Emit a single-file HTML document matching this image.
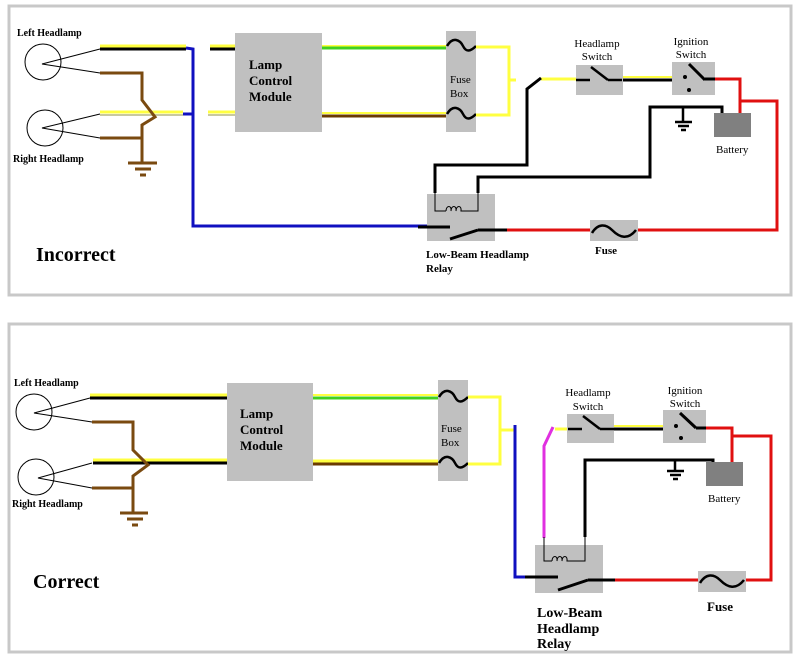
<!DOCTYPE html>
<html><head><style>body{margin:0;background:#fff}svg{display:block}text{font-family:"Liberation Serif",serif}</style></head><body>
<svg width="799" height="656" viewBox="0 0 799 656" xmlns="http://www.w3.org/2000/svg">
<rect x="0" y="0" width="799" height="656" fill="#fff"/>
<!-- ===== TOP PANEL ===== -->
<rect x="9" y="6" width="782" height="289" fill="#fff" stroke="#c8c8c8" stroke-width="3"/>
<g fill="none" stroke-linecap="butt">
<circle cx="43" cy="62" r="18" stroke="#000" stroke-width="1"/>
<circle cx="45" cy="128" r="18" stroke="#000" stroke-width="1"/>
<polyline points="100,49 42,64 100,73" stroke="#000" stroke-width="1"/>
<polyline points="100,114 42,128 100,138" stroke="#000" stroke-width="1"/>
<line x1="100" y1="46" x2="186" y2="46" stroke="#ffff40" stroke-width="3"/>
<line x1="100" y1="49" x2="186" y2="49" stroke="#000" stroke-width="3"/>
<line x1="210" y1="46" x2="235" y2="46" stroke="#ffff40" stroke-width="3"/>
<line x1="210" y1="49" x2="235" y2="49" stroke="#000" stroke-width="3"/>
<line x1="100" y1="112" x2="183" y2="112" stroke="#ffff40" stroke-width="3"/>
<line x1="100" y1="115" x2="183" y2="115" stroke="#c8c8a0" stroke-width="2"/>
<line x1="208" y1="112" x2="235" y2="112" stroke="#ffff40" stroke-width="3"/>
<line x1="208" y1="115" x2="235" y2="115" stroke="#c8c8a0" stroke-width="2"/>
<polyline points="186,48 193,49 193,226 430,226" stroke="#1010c0" stroke-width="3"/>
<line x1="183" y1="114" x2="193" y2="114" stroke="#1010c0" stroke-width="3"/>
<polyline points="100,73 142,73 142,100 155,117 142,125 142,162" stroke="#7a4a10" stroke-width="3"/>
<line x1="100" y1="138" x2="142" y2="138" stroke="#7a4a10" stroke-width="3"/>
<line x1="128" y1="163" x2="157" y2="163" stroke="#7a4a10" stroke-width="3"/>
<line x1="135" y1="169" x2="151" y2="169" stroke="#7a4a10" stroke-width="3"/>
<line x1="140" y1="175" x2="146" y2="175" stroke="#7a4a10" stroke-width="3"/>
</g>
<rect x="235" y="33" width="87" height="99" fill="#c0c0c0"/>
<text font-weight="bold" font-size="13" x="249" y="69">Lamp</text>
<text font-weight="bold" font-size="13" x="249" y="85">Control</text>
<text font-weight="bold" font-size="13" x="249" y="101">Module</text>
<g fill="none">
<line x1="322" y1="46" x2="447" y2="46" stroke="#ffff40" stroke-width="2"/>
<line x1="322" y1="48" x2="447" y2="48" stroke="#40d020" stroke-width="3"/>
<line x1="322" y1="113" x2="447" y2="113" stroke="#ffff40" stroke-width="2"/>
<line x1="322" y1="116" x2="447" y2="116" stroke="#6a3a00" stroke-width="3"/>
</g>
<rect x="446" y="31" width="30" height="101" fill="#c0c0c0"/>
<path d="M447,46 C453,36 460,40 463,46 C466,52 470,52 476,46" fill="none" stroke="#000" stroke-width="2.5"/>
<path d="M447,114 C453,104 460,108 463,114 C466,120 470,120 476,114" fill="none" stroke="#000" stroke-width="2.5"/>
<text font-size="11" x="450" y="83">Fuse</text>
<text font-size="11" x="450" y="97">Box</text>
<g fill="none">
<polyline points="476,47 509,47 509,115 476,115" stroke="#ffff40" stroke-width="3"/>
<line x1="509" y1="80" x2="516" y2="80" stroke="#ffff40" stroke-width="3"/>
<line x1="541" y1="79" x2="576" y2="79" stroke="#ffff40" stroke-width="3"/>
<polyline points="435,193 435,165 527,165 527,89 541,78" stroke="#000" stroke-width="3"/>
<polyline points="478,193 478,177 650,177 650,107 722,107 722,115" stroke="#000" stroke-width="3"/>
</g>
<rect x="576" y="65" width="47" height="30" fill="#c0c0c0"/>
<g fill="none" stroke="#000" stroke-width="2.5">
<line x1="576" y1="80" x2="590" y2="80"/><line x1="591" y1="67" x2="608" y2="80"/><line x1="608" y1="80" x2="622" y2="80"/>
</g>
<text font-size="11" x="597" y="47" text-anchor="middle">Headlamp</text>
<text font-size="11" x="597" y="60" text-anchor="middle">Switch</text>
<line x1="623" y1="77" x2="672" y2="77" stroke="#ffff40" stroke-width="2"/>
<line x1="623" y1="80" x2="672" y2="80" stroke="#000" stroke-width="3"/>
<rect x="672" y="62" width="43" height="33" fill="#c0c0c0"/>
<g stroke="#000" stroke-width="3"><line x1="689" y1="64" x2="705" y2="80"/><line x1="705" y1="79" x2="715" y2="79"/></g>
<circle cx="685" cy="77" r="2" fill="#000"/><circle cx="689" cy="90" r="2" fill="#000"/>
<text font-size="11" x="691" y="45" text-anchor="middle">Ignition</text>
<text font-size="11" x="691" y="58" text-anchor="middle">Switch</text>
<g fill="none" stroke="#e01010" stroke-width="3">
<polyline points="715,79 740,79 740,113"/><polyline points="740,101 777,101 777,230 638,230"/>
<line x1="507" y1="230" x2="590" y2="230"/>
</g>
<rect x="714" y="113" width="37" height="24" fill="#808080"/>
<text font-size="11" x="716" y="153">Battery</text>
<g stroke="#000" stroke-width="2.5">
<line x1="683" y1="107" x2="683" y2="122"/><line x1="675" y1="122" x2="692" y2="122"/><line x1="678" y1="126" x2="689" y2="126"/><line x1="681" y1="130" x2="686" y2="130"/>
</g>
<rect x="427" y="194" width="68" height="47" fill="#c0c0c0"/>
<path d="M435,193 V211 H446 M446,211 c0,-6 6,-6 5,0 c0,-6 6,-6 5,0 c0,-6 6,-6 5,0 H478 V193" fill="none" stroke="#000" stroke-width="1"/>
<g stroke="#000" stroke-width="3" fill="none">
<line x1="418" y1="227" x2="450" y2="227"/><line x1="450" y1="239" x2="478" y2="230"/><line x1="478" y1="230" x2="507" y2="230"/>
</g>
<rect x="590" y="220" width="48" height="21" fill="#c0c0c0"/>
<path d="M592,233 C598,223 606,224 612,230 C620,238 628,240 636,230" fill="none" stroke="#000" stroke-width="2.5"/>
<text font-size="11" x="595" y="254" font-weight="bold">Fuse</text>
<text font-size="11" x="426" y="258" font-weight="bold">Low-Beam Headlamp</text>
<text font-size="11" x="426" y="272" font-weight="bold">Relay</text>
<text font-size="20" x="36" y="261" font-weight="bold">Incorrect</text>
<text font-size="10" x="17" y="36" font-weight="bold">Left Headlamp</text>
<text font-size="10" x="13" y="162" font-weight="bold">Right Headlamp</text>

<!-- ===== BOTTOM PANEL ===== -->
<rect x="9" y="324" width="782" height="328" fill="#fff" stroke="#c8c8c8" stroke-width="3"/>
<g fill="none">
<circle cx="34" cy="412" r="18" stroke="#000" stroke-width="1"/>
<circle cx="36" cy="477" r="18" stroke="#000" stroke-width="1"/>
<polyline points="90,398 34,413 92,422" stroke="#000" stroke-width="1"/>
<polyline points="92,463 38,478 92,488" stroke="#000" stroke-width="1"/>
<line x1="90" y1="395" x2="227" y2="395" stroke="#ffff40" stroke-width="3"/>
<line x1="90" y1="398" x2="227" y2="398" stroke="#000" stroke-width="3"/>
<line x1="93" y1="460" x2="227" y2="460" stroke="#ffff40" stroke-width="3"/>
<line x1="93" y1="463" x2="227" y2="463" stroke="#000" stroke-width="3"/>
<polyline points="92,422 133,422 133,450 148,465 133,476 133,512" stroke="#7a4a10" stroke-width="3"/>
<line x1="92" y1="488" x2="133" y2="488" stroke="#7a4a10" stroke-width="3"/>
<line x1="120" y1="513" x2="148" y2="513" stroke="#7a4a10" stroke-width="3"/>
<line x1="127" y1="519" x2="143" y2="519" stroke="#7a4a10" stroke-width="3"/>
<line x1="132" y1="525" x2="138" y2="525" stroke="#7a4a10" stroke-width="3"/>
</g>
<rect x="227" y="383" width="86" height="98" fill="#c0c0c0"/>
<text font-weight="bold" font-size="13" x="240" y="418">Lamp</text>
<text font-weight="bold" font-size="13" x="240" y="434">Control</text>
<text font-weight="bold" font-size="13" x="240" y="450">Module</text>
<g fill="none">
<line x1="313" y1="395" x2="438" y2="395" stroke="#ffff40" stroke-width="2"/>
<line x1="313" y1="398" x2="438" y2="398" stroke="#40d020" stroke-width="3"/>
<line x1="313" y1="461" x2="438" y2="461" stroke="#ffff40" stroke-width="3"/>
<line x1="313" y1="464" x2="438" y2="464" stroke="#6a3a00" stroke-width="3"/>
</g>
<rect x="438" y="380" width="30" height="101" fill="#c0c0c0"/>
<path d="M439,397 C445,387 452,391 455,397 C458,403 462,403 468,397" fill="none" stroke="#000" stroke-width="2.5"/>
<path d="M439,463 C445,453 452,457 455,463 C458,469 462,469 468,463" fill="none" stroke="#000" stroke-width="2.5"/>
<text font-size="11" x="441" y="432">Fuse</text>
<text font-size="11" x="441" y="446">Box</text>
<g fill="none">
<polyline points="468,397 500,397 500,464 468,464" stroke="#ffff40" stroke-width="3"/>
<line x1="500" y1="430" x2="515" y2="430" stroke="#ffff40" stroke-width="3"/>
<polyline points="515,425 515,577 525,577" stroke="#1010c0" stroke-width="3"/>
<polyline points="544,538 544,446 553,427" stroke="#e030e0" stroke-width="3"/>
<line x1="555" y1="429" x2="568" y2="429" stroke="#ffff40" stroke-width="3"/>
<polyline points="585,537 585,460 713,460 713,462" stroke="#000" stroke-width="3"/>
</g>
<rect x="567" y="414" width="47" height="29" fill="#c0c0c0"/>
<g fill="none" stroke="#000" stroke-width="2.5">
<line x1="568" y1="429" x2="582" y2="429"/><line x1="583" y1="416" x2="600" y2="429"/><line x1="600" y1="429" x2="614" y2="429"/>
</g>
<text font-size="11" x="588" y="396" text-anchor="middle">Headlamp</text>
<text font-size="11" x="588" y="410" text-anchor="middle">Switch</text>
<line x1="614" y1="426" x2="663" y2="426" stroke="#ffff40" stroke-width="2"/>
<line x1="614" y1="429" x2="663" y2="429" stroke="#000" stroke-width="3"/>
<rect x="663" y="410" width="43" height="33" fill="#c0c0c0"/>
<g stroke="#000" stroke-width="3"><line x1="680" y1="413" x2="696" y2="428"/><line x1="696" y1="428" x2="706" y2="428"/></g>
<circle cx="676" cy="426" r="2" fill="#000"/><circle cx="681" cy="438" r="2" fill="#000"/>
<text font-size="11" x="685" y="394" text-anchor="middle">Ignition</text>
<text font-size="11" x="685" y="407" text-anchor="middle">Switch</text>
<g fill="none" stroke="#e01010" stroke-width="3">
<polyline points="706,428 732,428 732,462"/><polyline points="732,436 771,436 771,580 746,580"/>
<line x1="615" y1="580" x2="699" y2="580"/>
</g>
<rect x="706" y="462" width="37" height="24" fill="#808080"/>
<text font-size="11" x="708" y="502">Battery</text>
<g stroke="#000" stroke-width="2.5">
<line x1="675" y1="460" x2="675" y2="471"/><line x1="667" y1="471" x2="684" y2="471"/><line x1="670" y1="475" x2="681" y2="475"/><line x1="673" y1="479" x2="678" y2="479"/>
</g>
<rect x="535" y="545" width="68" height="48" fill="#c0c0c0"/>
<path d="M544,537 V561 H552 M552,561 c0,-6 6,-6 5,0 c0,-6 6,-6 5,0 c0,-6 6,-6 5,0 H585 V537" fill="none" stroke="#000" stroke-width="1"/>
<g stroke="#000" stroke-width="3" fill="none">
<line x1="525" y1="577" x2="558" y2="577"/><line x1="558" y1="590" x2="588" y2="580"/><line x1="588" y1="580" x2="615" y2="580"/>
</g>
<rect x="698" y="571" width="48" height="21" fill="#c0c0c0"/>
<path d="M700,583 C706,573 714,574 720,580 C728,588 736,590 744,580" fill="none" stroke="#000" stroke-width="2.5"/>
<text font-size="13" x="707" y="611" font-weight="bold">Fuse</text>
<text font-size="14" x="537" y="617" font-weight="bold">Low-Beam</text>
<text font-size="14" x="537" y="633" font-weight="bold">Headlamp</text>
<text font-size="14" x="537" y="648" font-weight="bold">Relay</text>
<text font-size="20" x="33" y="588" font-weight="bold">Correct</text>
<text font-size="10" x="14" y="386" font-weight="bold">Left Headlamp</text>
<text font-size="10" x="12" y="507" font-weight="bold">Right Headlamp</text>
</svg>
</body></html>
